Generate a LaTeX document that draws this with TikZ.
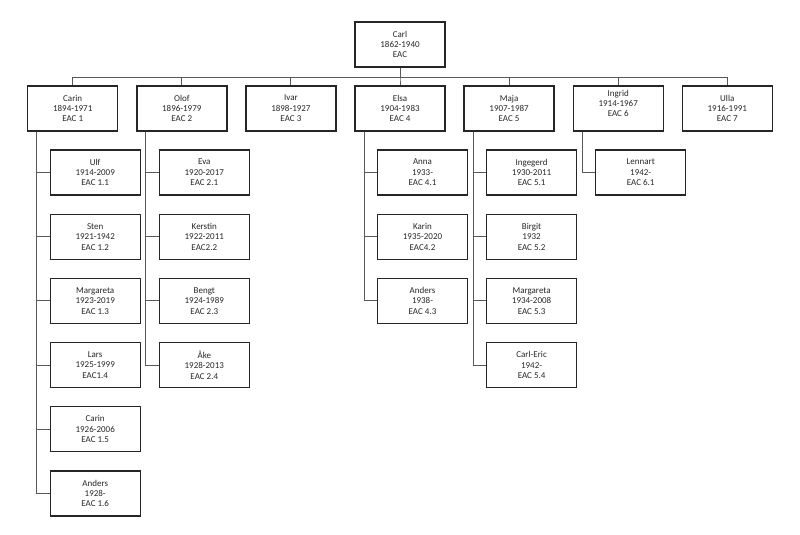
\documentclass[tikz,border=0pt]{standalone}
\usepackage{fontspec}
\setmainfont{Carlito}
\begin{document}
\begin{tikzpicture}[x=1pt,y=-1pt,
  person/.style={draw=black!85,line width=1.4pt,minimum width=90pt,minimum height=45pt,
    inner sep=0pt,align=center,text=black!85,font=\fontsize{9}{10.4}\selectfont},
  link/.style={draw=black!65,line width=0.9pt}]
\useasboundingbox (0,0) rectangle (800,535);
% root
\node[person] (carl) at (400,44.5) {Carl\\1862-1940\\EAC};
% level 1
\node[person] (carin) at (72.7,108.5) {Carin\\1894-1971\\EAC 1};
\node[person] (olof) at (181.8,108.5) {Olof\\1896-1979\\EAC 2};
\node[person] (ivar) at (290.9,108.5) {Ivar\\1898-1927\\EAC 3};
\node[person] (elsa) at (400,108.5) {Elsa\\1904-1983\\EAC 4};
\node[person] (maja) at (509.1,108.5) {Maja\\1907-1987\\EAC 5};
\node[person] (ingrid) at (618.2,108.5) {Ingrid\\1914-1967\\EAC 6\\ \mbox{}};
\node[person] (ulla) at (727.3,108.5) {Ulla\\1916-1991\\EAC 7};
% Carin's children
\node[person] (c11) at (95.2,172.5) {Ulf\\1914-2009\\EAC 1.1};
\node[person] (c12) at (95.2,236.8) {Sten\\1921-1942\\EAC 1.2};
\node[person] (c13) at (95.2,300.9) {Margareta\\1923-2019\\EAC 1.3};
\node[person] (c14) at (95.2,365.0) {Lars\\1925-1999\\EAC1.4};
\node[person] (c15) at (95.2,429.2) {Carin\\1926-2006\\EAC 1.5};
\node[person] (c16) at (95.2,493.4) {Anders\\1928-\\EAC 1.6};
% Olof's children
\node[person] (c21) at (204.3,172.5) {Eva\\1920-2017\\EAC 2.1};
\node[person] (c22) at (204.3,236.8) {Kerstin\\1922-2011\\EAC2.2};
\node[person] (c23) at (204.3,300.9) {Bengt\\1924-1989\\EAC 2.3};
\node[person] (c24) at (204.3,365.0) {Åke\\1928-2013\\EAC 2.4};
% Elsa's children
\node[person] (c41) at (422.5,172.5) {Anna\\1933-\\EAC 4.1};
\node[person] (c42) at (422.5,236.8) {Karin\\1935-2020\\EAC4.2};
\node[person] (c43) at (422.5,300.9) {Anders\\1938-\\EAC 4.3};
% Maja's children
\node[person] (c51) at (531.6,172.5) {Ingegerd\\1930-2011\\EAC 5.1};
\node[person] (c52) at (531.6,236.8) {Birgit\\1932\\EAC 5.2};
\node[person] (c53) at (531.6,300.9) {Margareta\\1934-2008\\EAC 5.3};
\node[person] (c54) at (531.6,365.0) {Carl-Eric\\1942-\\EAC 5.4};
% Ingrid's child
\node[person] (c61) at (640.7,172.5) {Lennart\\1942-\\EAC 6.1};
% bus from root
\foreach \k in {carin,olof,ivar,elsa,maja,ingrid,ulla}
  \draw[link] (carl.south) -- ++(0,10) -| (\k.north);
% child connectors
\foreach \p/\kids in {carin/{c11,c12,c13,c14,c15,c16},olof/{c21,c22,c23,c24},
    elsa/{c41,c42,c43},maja/{c51,c52,c53,c54},ingrid/{c61}}
  \foreach \k in \kids
    \draw[link] ([xshift=-36pt]\p.south) |- (\k.west);
\end{tikzpicture}
\end{document}
